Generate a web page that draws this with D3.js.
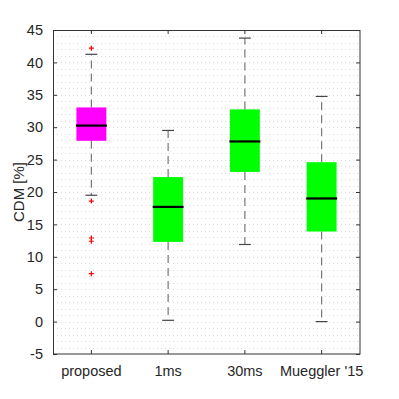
<!DOCTYPE html>
<html>
<head>
<meta charset="utf-8">
<script src="https://cdn.jsdelivr.net/npm/d3@7"></script>
<style>
  body { margin: 0; background: #fff; }
  text { font-family: "Liberation Sans", Arial, sans-serif; }
</style>
</head>
<body>
<div id="chart"></div>
<script>
const categories = ["proposed", "1ms", "30ms", "Mueggler '15"];
const lowerWhisker = [19.5, 0.2, 11.9, 0.0];
const q1 = [27.9, 12.3, 23.1, 13.9];
const median = [30.25, 17.7, 27.8, 19.0];
const q3 = [33.05, 22.3, 32.75, 24.6];
const upperWhisker = [41.25, 29.5, 43.75, 34.75];
const outliers = [[42.2, 18.6, 12.9, 12.4, 7.4], [], [], []];
const boxColors = ["#ff00ff", "#00ff00", "#00ff00", "#00ff00"];
const yTicks = [-5, 0, 5, 10, 15, 20, 25, 30, 35, 40, 45];

const W = 399, H = 399;
const margin = { top: 30, right: 39, bottom: 45, left: 53 };
const width = W - margin.left - margin.right;
const height = H - margin.top - margin.bottom;

const svg = d3.select("#chart").append("svg")
  .attr("width", W).attr("height", H)
  .append("g")
  .attr("transform", `translate(${margin.left},${margin.top})`);

const x = d3.scaleBand().domain(categories).range([0, width]).padding(0);
const y = d3.scaleLinear().domain([-5, 45]).range([height, 0]);

const boxW = x.bandwidth() * 0.39;
const capW = x.bandwidth() * 0.155;
const cx = (i) => x(categories[i]) + x.bandwidth() / 2;

// dotted grid at every unit
svg.append("g").selectAll("line")
  .data(d3.range(-4, 45))
  .join("line")
  .attr("x1", 0).attr("x2", width)
  .attr("y1", (d) => Math.round(y(d)) + 0.5)
  .attr("y2", (d) => Math.round(y(d)) + 0.5)
  .attr("stroke", "#dcdcdc")
  .attr("stroke-dasharray", "1,3");

const data = categories.map((c, i) => i);

// whiskers
svg.selectAll(".whisk-hi").data(data).join("line")
  .attr("x1", (i) => cx(i)).attr("x2", (i) => cx(i))
  .attr("y1", (i) => y(q3[i])).attr("y2", (i) => y(upperWhisker[i]))
  .attr("stroke", "#777").attr("stroke-width", 1.2).attr("stroke-dasharray", "8,5");
svg.selectAll(".whisk-lo").data(data).join("line")
  .attr("x1", (i) => cx(i)).attr("x2", (i) => cx(i))
  .attr("y1", (i) => y(q1[i])).attr("y2", (i) => y(lowerWhisker[i]))
  .attr("stroke", "#777").attr("stroke-width", 1.2).attr("stroke-dasharray", "8,5");

// caps
[upperWhisker, lowerWhisker].forEach((arr) => {
  svg.append("g").selectAll("line").data(data).join("line")
    .attr("x1", (i) => cx(i) - capW / 2).attr("x2", (i) => cx(i) + capW / 2)
    .attr("y1", (i) => y(arr[i])).attr("y2", (i) => y(arr[i]))
    .attr("stroke", "#444").attr("stroke-width", 1.2);
});

// boxes
svg.selectAll(".box").data(data).join("rect")
  .attr("x", (i) => cx(i) - boxW / 2)
  .attr("y", (i) => y(q3[i]))
  .attr("width", boxW)
  .attr("height", (i) => y(q1[i]) - y(q3[i]))
  .attr("fill", (i) => boxColors[i]);

// medians
svg.selectAll(".med").data(data).join("line")
  .attr("x1", (i) => cx(i) - boxW / 2 - 0.5).attr("x2", (i) => cx(i) + boxW / 2 + 0.5)
  .attr("y1", (i) => y(median[i])).attr("y2", (i) => y(median[i]))
  .attr("stroke", "#000").attr("stroke-width", 2.2);

// outliers as red plus marks
const pts = [];
outliers.forEach((arr, i) => arr.forEach((v) => pts.push({ i, v })));
svg.selectAll(".out").data(pts).join("path")
  .attr("d", (d) => {
    const px = cx(d.i), py = y(d.v), s = 2.5;
    return `M${px - s},${py}H${px + s}M${px},${py - s}V${py + s}`;
  })
  .attr("stroke", "#ff0000").attr("stroke-width", 1.2);

// axes box
const axisColor = "#333";
svg.append("rect")
  .attr("x", 0.5).attr("y", 0.5).attr("width", width - 0.5).attr("height", height - 0.5)
  .attr("fill", "none").attr("stroke", axisColor);

// y ticks inward on both sides
svg.append("g")
  .call(d3.axisLeft(y).tickValues(yTicks).tickSizeInner(-4).tickSizeOuter(0).tickPadding(10)
    .tickFormat((d) => String(d)))
  .call((g) => g.select(".domain").remove())
  .call((g) => g.selectAll("line").attr("stroke", axisColor))
  .selectAll("text").attr("font-size", "14.5px").attr("fill", "#262626")
  .attr("font-family", "Liberation Sans, Arial, sans-serif");
svg.append("g")
  .attr("transform", `translate(${width},0)`)
  .call(d3.axisRight(y).tickValues(yTicks).tickSizeInner(-4).tickSizeOuter(0).tickFormat(""))
  .call((g) => g.select(".domain").remove())
  .call((g) => g.selectAll("line").attr("stroke", axisColor));

// x ticks inward top and bottom
svg.append("g")
  .attr("transform", `translate(0,${height})`)
  .call(d3.axisBottom(x).tickSizeInner(-4).tickSizeOuter(0).tickPadding(12))
  .call((g) => g.select(".domain").remove())
  .call((g) => g.selectAll("line").attr("stroke", axisColor))
  .selectAll("text").attr("font-size", "14.5px").attr("fill", "#262626")
  .attr("font-family", "Liberation Sans, Arial, sans-serif");
svg.append("g")
  .call(d3.axisTop(x).tickSizeInner(-4).tickSizeOuter(0).tickFormat(""))
  .call((g) => g.select(".domain").remove())
  .call((g) => g.selectAll("line").attr("stroke", axisColor));

// y label
svg.append("text")
  .attr("transform", `translate(${24 - margin.left},${height / 2}) rotate(-90)`)
  .attr("text-anchor", "middle")
  .attr("font-size", "15px").attr("fill", "#262626")
  .text("CDM [%]");
</script>
</body>
</html>
